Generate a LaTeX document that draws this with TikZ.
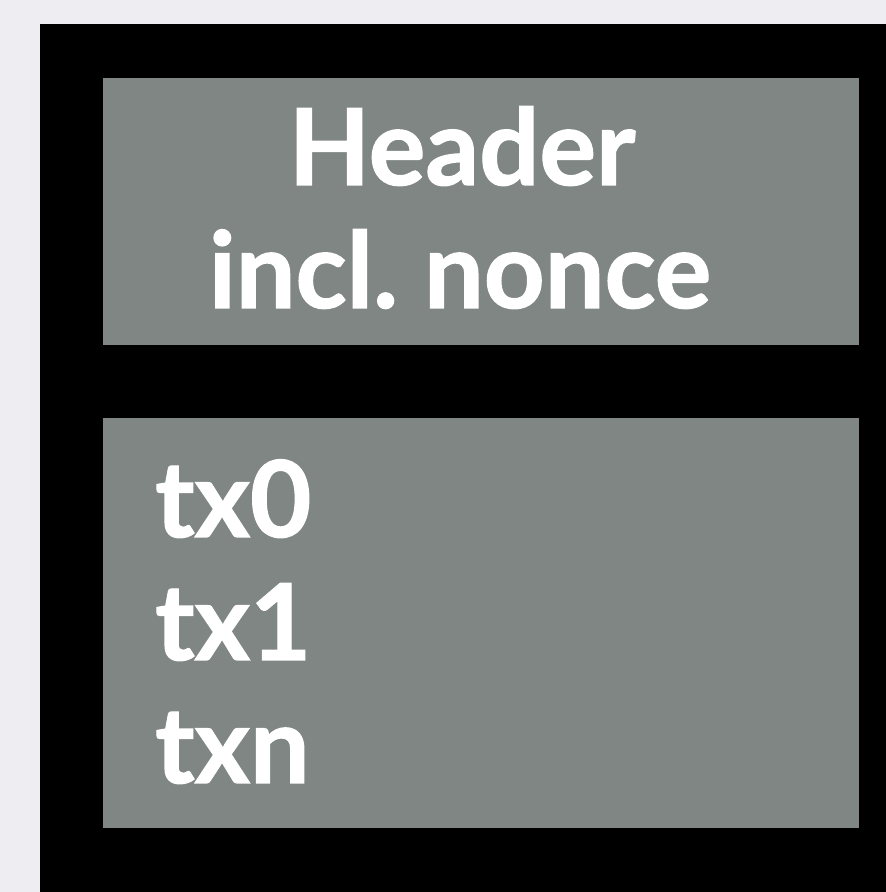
\documentclass[tikz,border=0pt]{standalone}
\usepackage{fontspec}
\setmainfont{Lato}[BoldFeatures={FakeBold=1.2}]
\definecolor{bgc}{RGB}{238,238,242}
\definecolor{boxgray}{RGB}{127,134,131}
\begin{document}
\begin{tikzpicture}[x=1pt,y=1pt,
  panel/.style={fill=boxgray,draw=none},
  lbl/.style={text=white,inner sep=0pt,font=\fontsize{106}{120}\selectfont\bfseries}]
\useasboundingbox (0,0) rectangle (886,892);
\fill[bgc] (0,0) rectangle (886,892);
\fill[black] (40,0) rectangle (886,868);
\path[panel] (103,547) rectangle (859,814);
\path[panel] (103,64) rectangle (859,474);
\node[lbl,anchor=base] (h1) at (462,707) {Header};
\node[lbl,anchor=base] (h2) at (460,584) {incl.\ nonce};
\node[lbl,anchor=base west] (t0) at (155,355) {tx0};
\node[lbl,anchor=base west] (t1) at (155,232) {tx1};
\node[lbl,anchor=base west] (tn) at (155,109) {txn};
\end{tikzpicture}
\end{document}
